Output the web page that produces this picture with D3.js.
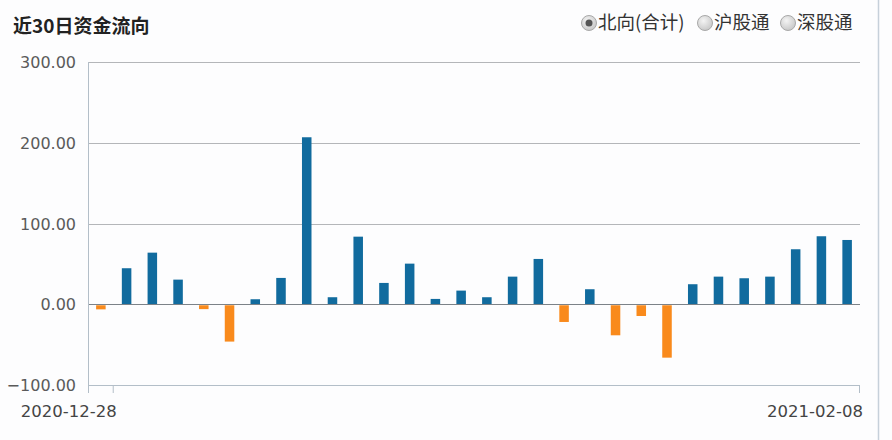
<!DOCTYPE html>
<html>
<head>
<meta charset="utf-8">
<script src="https://cdn.jsdelivr.net/npm/d3@7"></script>
<style>
  body { margin: 0; background: #fdfdfe; }
  svg { display: block; }
</style>
</head>
<body>
<div id="chart"></div>
<script>
// trading days, 2020-12-28 .. 2021-02-08
var dates = ["2020-12-28","2020-12-29","2020-12-30","2020-12-31",
             "2021-01-04","2021-01-05","2021-01-06","2021-01-07","2021-01-08",
             "2021-01-11","2021-01-12","2021-01-13","2021-01-14","2021-01-15",
             "2021-01-18","2021-01-19","2021-01-20","2021-01-21","2021-01-22",
             "2021-01-25","2021-01-26","2021-01-27","2021-01-28","2021-01-29",
             "2021-02-01","2021-02-02","2021-02-03","2021-02-04","2021-02-05",
             "2021-02-08"]
// 北向(合计) net inflow, 亿元
var flows = [-5.1, 44.6, 63.9, 30.5, -4.8, -45.0, 6.2, 32.6, 206.8, 8.7,
             83.7, 26.4, 50.3, 6.6, 16.9, 8.7, 34.2, 56.1, -20.7, 18.6,
             -37.2, -13.3, -64.9, 24.8, 34.2, 32.2, 34.2, 68.1, 84.2, 79.6]
var yTicks = [-100, 0, 100, 200, 300]
var xLabels = ["2020-12-28", "2021-02-08"]
var legendItems = ["北向(合计)", "沪股通", "深股通"]
var title = "近30日资金流向"

var width = 892, height = 440
var plotL = 88, plotR = 860, plotT = 62, plotB = 385

var svg = d3.select("#chart").append("svg")
            .attr("width", width)
            .attr("height", height)

svg.append("rect")
   .attr("width", width).attr("height", height)
   .attr("fill", "#fdfdfe")

// panel border on the right
svg.append("line")
   .attr("x1", 878.5).attr("x2", 878.5)
   .attr("y1", 0).attr("y2", height)
   .attr("stroke", "#c6d0da").attr("stroke-width", 1.5)

svg.append("text")
   .attr("x", 13).attr("y", 33)
   .attr("font-family", "'Noto Sans CJK SC', sans-serif")
   .attr("font-weight", "bold")
   .attr("font-size", 19)
   .attr("fill", "#222")
   .text(title)

var x = d3.scaleBand().domain(dates).range([plotL, plotR]).paddingInner(0.63).paddingOuter(0.315)
var y = d3.scaleLinear().domain([-100, 300]).range([plotB, plotT])

// grid
svg.selectAll(".grid")
   .data(yTicks.filter(function(d) { return d > 0 }))
   .enter().append("line")
   .attr("x1", plotL).attr("x2", plotR)
   .attr("y1", function(d) { return Math.round(y(d)) + 0.5 })
   .attr("y2", function(d) { return Math.round(y(d)) + 0.5 })
   .attr("stroke", "#b4b6b9")
   .attr("stroke-width", 1)

// y labels
svg.selectAll(".ylab")
   .data(yTicks)
   .enter().append("text")
   .attr("x", 76)
   .attr("y", function(d) { return y(d) + 6 })
   .attr("text-anchor", "end")
   .attr("font-family", "'DejaVu Sans', sans-serif")
   .attr("font-size", 16)
   .attr("fill", "#5a5a5a")
   .text(function(d) { return d3.format(".2f")(d) })

// bars
svg.selectAll(".bar")
   .data(flows)
   .enter().append("rect")
   .attr("x", function(d, i) { return x(dates[i]) })
   .attr("width", x.bandwidth())
   .attr("y", function(d) { return d >= 0 ? y(d) : y(0) + 1 })
   .attr("height", function(d) { return Math.abs(y(d) - y(0)) })
   .attr("fill", function(d) { return d >= 0 ? "#116b9e" : "#f98a1c" })

// zero line over bars
svg.append("line")
   .attr("x1", plotL).attr("x2", plotR)
   .attr("y1", Math.round(y(0)) + 0.5).attr("y2", Math.round(y(0)) + 0.5)
   .attr("stroke", "#7c8288")

// axes
svg.append("line")
   .attr("x1", plotL + 0.5).attr("x2", plotL + 0.5)
   .attr("y1", plotT).attr("y2", plotB + 8)
   .attr("stroke", "#b3bec8")
svg.append("line")
   .attr("x1", plotL).attr("x2", plotR)
   .attr("y1", plotB + 0.5).attr("y2", plotB + 0.5)
   .attr("stroke", "#b3bec8")

// ticks sit at the right end of each labelled day's slot
var step = x.step()
function tickX(d) {
  return Math.min(x(d) - x.paddingInner() * step / 2 + step, plotR)
}
svg.selectAll(".xtick")
   .data(xLabels)
   .enter().append("line")
   .attr("x1", function(d) { return tickX(d) - 0.5 })
   .attr("x2", function(d) { return tickX(d) - 0.5 })
   .attr("y1", plotB).attr("y2", plotB + 8)
   .attr("stroke", "#b3bec8")

svg.selectAll(".xlab")
   .data(xLabels)
   .enter().append("text")
   .attr("x", function(d) { return tickX(d) + 3 })
   .attr("y", 417)
   .attr("text-anchor", "end")
   .attr("font-family", "'DejaVu Sans', sans-serif")
   .attr("font-size", 16.5)
   .attr("fill", "#444")
   .text(function(d) { return d })

// legend radios
var defs = svg.append("defs")
var grad = defs.append("radialGradient").attr("id", "radio").attr("cx", "40%").attr("cy", "35%").attr("r", "65%")
grad.append("stop").attr("offset", "0%").attr("stop-color", "#f4f4f4")
grad.append("stop").attr("offset", "100%").attr("stop-color", "#c9c9c9")

var legendX = [589, 705, 788]
var lg = svg.selectAll(".lg")
            .data(legendItems)
            .enter().append("g")
            .attr("transform", function(d, i) { return "translate(" + legendX[i] + ",23)" })
lg.append("circle")
  .attr("r", 7.5)
  .attr("fill", "url(#radio)")
  .attr("stroke", "#a9a9a9")
lg.filter(function(d, i) { return i == 0 })
  .append("circle")
  .attr("r", 3.5)
  .attr("fill", "#555")
lg.append("text")
  .attr("x", 9)
  .attr("y", 6)
  .attr("font-family", "'Noto Sans CJK SC', sans-serif")
  .attr("font-size", 18.5)
  .attr("fill", "#333")
  .text(function(d) { return d })
</script>
</body>
</html>
